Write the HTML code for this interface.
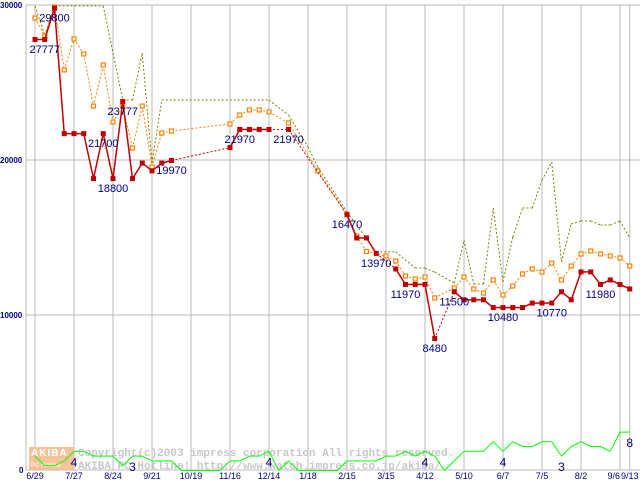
<!DOCTYPE html>
<html><head><meta charset="utf-8"><style>
html,body{margin:0;padding:0;background:#fff;}
svg{display:block;font-family:"Liberation Sans",sans-serif;}
</style></head><body>
<svg id="chart" width="640" height="480" viewBox="0 0 640 480" xmlns="http://www.w3.org/2000/svg"></svg>
<script>
// ---- data ----
const tickLabels = ["6/29","7/27","8/24","9/21","10/19","11/16","12/14","1/18","2/15","3/15","4/12","5/10","6/7","7/5","8/2","9/6","9/13"];
const tickSlots = [0,4,8,12,16,20,24,28,32,36,40,44,48,52,56,60,61];
const yTicks = [0,10000,20000,30000];

const redSlots = [0,1,2,3,4,5,6,7,8,9,10,11,12,13,14,20,21,22,23,24,26,32,33,34,35,37,38,39,40,41,43,44,45,46,47,48,49,50,51,52,53,54,55,56,57,58,59,60,61];
const redValues = [27777,27777,29800,21700,21700,21700,18800,21700,18800,23777,18800,19800,19300,19800,19970,20800,21970,21970,21970,21970,21970,16470,14970,14970,13970,12970,11970,11970,11970,8480,11500,10980,10980,10980,10480,10480,10480,10480,10770,10770,10770,11500,10980,12780,12780,11970,12260,11970,11680];

const orangeSlots = [0,1,2,3,4,5,6,7,8,9,10,11,12,13,14,20,21,22,23,24,26,29,32,33,34,36,37,38,39,40,41,43,44,45,46,47,48,49,50,51,52,53,54,55,56,57,58,59,60,61];
const orangeValues = [29160,28000,29870,25810,27810,26840,23480,26130,22450,23480,20770,23480,19550,21740,21870,22320,22900,23230,23230,23100,22390,19300,16500,15100,14100,13810,13480,12520,12320,12450,11100,11740,12450,11680,11420,12260,11290,11870,12650,12970,12770,13350,12260,13160,13940,14130,13940,13810,13680,13160];

const oliveSlots = [0,1,2,7,8,9,10,11,12,13,24,26,28,29,32,35,37,39,40,41,43,44,45,46,47,48,49,50,51,52,53,54,55,56,57,58,59,60,61];
const oliveValues = [29940,28060,29940,29940,26900,23870,23870,26900,19800,23870,23870,22900,20840,19550,16650,14070,14070,13030,13030,12770,12070,14840,12000,12000,16900,12130,15030,16900,16900,18710,19870,13420,15870,16070,16070,15810,15810,16070,14970];

const countSlots = [0,1,2,3,4,5,6,7,8,9,10,11,12,13,14,15,16,17,18,19,20,21,22,23,24,25,26,27,28,29,30,31,32,33,34,35,36,37,38,39,40,41,42,43,44,45,46,47,48,49,50,51,52,53,54,55,56,57,58,59,60,61];
const countValues = [3,1,1,2,4,4,3,3,3,1,3,3,2,2,2,0,0,0,0,0,2,2,3,3,4,0,2,0,0,0,0,0,2,2,2,2,3,3,4,3,4,3,0,2,4,4,4,6,4,6,5,5,6,6,3,5,6,5,5,4,8,8];

const priceLabels = ["29800","27777","21700","18800","23777","19970","21970","21970","16470","13970","11970","11500","8480","10480","10770","11980"];
const priceLabelSlots = [2,1,7,8,9,14,21,26,32,35,38,43,41,48,53,58];
const priceLabelValues = [29800,27777,21700,18800,23777,19970,21970,21970,16470,13970,11970,11500,8480,10480,10770,11980];
const countLabels = ["4","3","4","4","4","3","8"];
const countLabelSlots = [4,10,24,40,48,54,61];
const countLabelValues = [4,3,4,4,4,3,8];

// ---- axes ----
const X0 = 35, DX = 9.75, PLOT_L = 26, PLOT_R = 640, PLOT_T = 5, PLOT_B = 470;
const xs = s => X0 + s * DX;
const ys = v => PLOT_B - v * 0.0155;
const yc = n => 470.5 - n * 4.8;

const svg = document.getElementById('chart');
const NS = 'http://www.w3.org/2000/svg';
function mk(tag, attrs, parent) {
  const e = document.createElementNS(NS, tag);
  for (const k in attrs) e.setAttribute(k, attrs[k]);
  (parent || svg).appendChild(e);
  return e;
}

// grid
const grid = mk('g', {});


tickSlots.forEach((s) => {
  const l = mk('line', {x1: xs(s), x2: xs(s), y1: PLOT_T, y2: PLOT_B, stroke: '#bbbbbb', 'stroke-width': 1}, grid);
  
  
});
yTicks.forEach((v) => {
  const l = mk('line', {x1: PLOT_L, x2: PLOT_R, y1: ys(v), y2: ys(v), stroke: '#bbbbbb', 'stroke-width': 1}, grid);
  
  
});
const yax = mk('line', {x1: PLOT_L, x2: PLOT_L, y1: PLOT_T, y2: PLOT_B, stroke: '#bbbbbb', 'stroke-width': 1});



// y tick labels
yTicks.forEach((v) => {
  const t = mk('text', {x: v === 0 ? 19 : 0, y: ys(v) + 3, 'font-size': 8, 'font-weight': 'bold', fill: '#000080'});
  t.textContent = String(v);
  
  
});
// x tick labels
tickSlots.forEach((s, i) => {
  const t = mk('text', {x: xs(s), y: 479, 'font-size': 9, fill: '#000080', 'text-anchor': i === 15 ? 'end' : 'middle'});
  t.textContent = tickLabels[i];
  
  
});

// watermark
const wm = mk('g', {});


mk('rect', {x: 29, y: 447, width: 45, height: 23, fill: '#f8b888', opacity: 0.85}, wm);
const wt1 = mk('text', {x: 31, y: 456, 'font-size': 10, 'font-weight': 'bold', fill: '#ffffff', 'letter-spacing': 1}, wm);
wt1.textContent = 'AKIBA';
const wt2 = mk('text', {x: 31, y: 467, 'font-size': 6, fill: '#ffffff'}, wm);
wt2.textContent = 'PC Hotline!';
const wt3 = mk('text', {x: 78, y: 456, 'font-size': 11, 'font-family': 'Liberation Mono, monospace', 'font-weight': 'bold', fill: '#c8c8c8'}, wm);
wt3.textContent = 'Copyright(c)2003 impress corporation All rights reserved.';
const wt4 = mk('text', {x: 78, y: 469, 'font-size': 11, 'font-family': 'Liberation Mono, monospace', 'font-weight': 'bold', fill: '#c8c8c8'}, wm);
wt4.textContent = 'AKIBA PC Hotline!  http://www.watch.impress.co.jp/akiba/';

// series helpers
function drawLine(slots, vals, yfn, color, dash, width, name) {
  const g = mk('g', {});
  
  
  for (let i = 1; i < slots.length; i++) {
    const gap = slots[i] - slots[i - 1] > 1;
    const d = dash || (gap ? '2,2' : null);
    const a = {x1: xs(slots[i - 1]), y1: yfn(vals[i - 1]), x2: xs(slots[i]), y2: yfn(vals[i]), stroke: color, 'stroke-width': (gap && !dash) ? 1 : width};
    if (d) a['stroke-dasharray'] = d;
    const l = mk('line', a, g);
    
    
  }
  return g;
}
function drawMarkers(slots, vals, color, hollow, name) {
  const g = mk('g', {});
  
  
  slots.forEach((s, i) => {
    const r = hollow
      ? mk('rect', {x: xs(s) - 2, y: ys(vals[i]) - 2, width: 4, height: 4, fill: '#ffffff', stroke: color, 'stroke-width': 1.2}, g)
      : mk('rect', {x: xs(s) - 2.5, y: ys(vals[i]) - 2.5, width: 5, height: 5, fill: color}, g);
    
    
  });
}

drawLine(oliveSlots, oliveValues, ys, '#808000', '2,2', 1, 'max-price-line');
drawLine(orangeSlots, orangeValues, ys, '#ff8000', '2,2', 1, 'avg-price-line');
drawMarkers(orangeSlots, orangeValues, '#ff8000', true, 'avg-price');
drawLine(redSlots, redValues, ys, '#c00000', null, 1.5, 'min-price-line');
drawMarkers(redSlots, redValues, '#c00000', false, 'min-price');
drawLine(countSlots, countValues, yc, '#00ff00', '', 1, 'shop-count-line');

// labels
priceLabels.forEach((txt, i) => {
  const t = mk('text', {x: xs(priceLabelSlots[i]), y: ys(priceLabelValues[i]) + 13.5, 'font-size': 11, fill: '#000080', 'text-anchor': 'middle'});
  t.textContent = txt;
  
  
});
countLabels.forEach((txt, i) => {
  const t = mk('text', {x: xs(countLabelSlots[i]), y: yc(countLabelValues[i]) + 15, 'font-size': 12, fill: '#000080', 'text-anchor': 'middle'});
  t.textContent = txt;
  
  
});
</script>
</body></html>
